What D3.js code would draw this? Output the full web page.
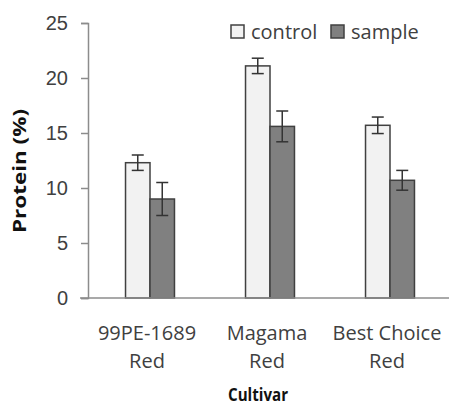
<!DOCTYPE html>
<html>
<head>
<meta charset="utf-8">
<script src="https://cdn.jsdelivr.net/npm/d3@7"></script>
<style>
  html, body { margin: 0; padding: 0; background: #fff; }
  svg { display: block; font-family: "Open Sans", "Noto Sans", sans-serif; }
</style>
</head>
<body>
<svg id="chart" width="449" height="407"></svg>
<script>
// Protein content per cultivar, control vs sample, with error bars
const categories = ["99PE-1689 Red", "Magama Red", "Best Choice Red"];
const seriesNames = ["control", "sample"];
const controlValues = [12.3, 21.1, 15.7];
const sampleValues = [9.0, 15.6, 10.7];
const controlErrors = [0.7, 0.7, 0.75];
const sampleErrors = [1.5, 1.4, 0.9];
const yTicks = [0, 5, 10, 15, 20, 25];

const fills = { control: "#f2f2f2", sample: "#808080" };
const textColor = "#404040";

const svg = d3.select("#chart");
const margin = { left: 88, top: 23, bottom: 298 };

const y = d3.scaleLinear().domain([0, 25]).range([margin.bottom, margin.top]);
const x0 = d3.scaleBand().domain(categories)
  .range([90, 450]).paddingInner(0.592).paddingOuter(0.296);
const x1 = d3.scaleBand().domain(seriesNames).range([0, x0.bandwidth()]);

const rows = categories.map((c, i) => ({
  category: c,
  bars: [
    { series: "control", value: controlValues[i], err: controlErrors[i] },
    { series: "sample", value: sampleValues[i], err: sampleErrors[i] }
  ]
}));

// y axis
const yAxis = svg.append("g")
  .attr("transform", `translate(${margin.left},0)`)
  .call(d3.axisLeft(y).tickValues(yTicks).tickSize(7).tickPadding(13));
yAxis.select(".domain").attr("stroke", "#8c8c8c").attr("stroke-width", 1.5);
yAxis.selectAll(".tick line").attr("stroke", "#8c8c8c").attr("stroke-width", 1.5);
yAxis.selectAll(".tick text")
  .attr("fill", textColor).style("font-size", "20px");

// bars
const groups = svg.append("g").selectAll("g")
  .data(rows).join("g")
  .attr("transform", d => `translate(${x0(d.category)},0)`);

groups.selectAll("rect")
  .data(d => d.bars).join("rect")
  .attr("x", d => x1(d.series))
  .attr("width", x1.bandwidth())
  .attr("y", d => y(d.value))
  .attr("height", d => y(0) - y(d.value))
  .attr("fill", d => fills[d.series])
  .attr("stroke", "#404040")
  .attr("stroke-width", 1.5);

// error bars
const cx = d => x1(d.series) + x1.bandwidth() / 2;
const eb = groups.selectAll("g.err")
  .data(d => d.bars).join("g").attr("class", "err")
  .attr("stroke", "#333").attr("stroke-width", 1.5);
eb.append("line")
  .attr("x1", cx).attr("x2", cx)
  .attr("y1", d => y(d.value + d.err))
  .attr("y2", d => y(d.value - d.err));
eb.append("line")
  .attr("x1", d => cx(d) - 6).attr("x2", d => cx(d) + 6)
  .attr("y1", d => y(d.value + d.err))
  .attr("y2", d => y(d.value + d.err));
eb.append("line")
  .attr("x1", d => cx(d) - 6).attr("x2", d => cx(d) + 6)
  .attr("y1", d => y(d.value - d.err))
  .attr("y2", d => y(d.value - d.err));

// x baseline
svg.append("line")
  .attr("x1", 80).attr("x2", 449)
  .attr("y1", y(0)).attr("y2", y(0))
  .attr("stroke", "#8c8c8c").attr("stroke-width", 1.5);

// category labels on two lines
const catLabels = svg.append("g").selectAll("text")
  .data(categories).join("text")
  .attr("y", 340)
  .attr("text-anchor", "middle")
  .attr("fill", textColor)
  .style("font-size", "20px");
catLabels.each(function(d) {
  const cut = d.lastIndexOf(" ");
  const lines = [d.slice(0, cut), d.slice(cut + 1)];
  const t = d3.select(this);
  lines.forEach((ln, i) => {
    t.append("tspan")
      .attr("x", x0(d) + x0.bandwidth() / 2 - 3)
      .attr("dy", i === 0 ? 0 : 28)
      .text(ln);
  });
});

// axis titles
svg.append("text")
  .attr("transform", `translate(26,171) rotate(-90)`)
  .attr("text-anchor", "middle")
  .attr("fill", "#111")
  .attr("textLength", 124)
  .attr("lengthAdjust", "spacingAndGlyphs")
  .style("font-size", "17px").style("font-weight", "bold")
  .text("Protein (%)");
svg.append("text")
  .attr("x", 258).attr("y", 401)
  .attr("text-anchor", "middle")
  .attr("fill", "#111")
  .attr("textLength", 60)
  .attr("lengthAdjust", "spacingAndGlyphs")
  .style("font-size", "18px").style("font-weight", "bold")
  .text("Cultivar");

// legend
const legendX = [231, 331];
const legend = svg.append("g").selectAll("g")
  .data(seriesNames).join("g")
  .attr("transform", (d, i) => `translate(${legendX[i]},25)`);
legend.append("rect")
  .attr("width", 13).attr("height", 13)
  .attr("fill", d => fills[d])
  .attr("stroke", "#404040").attr("stroke-width", 1.5);
legend.append("text")
  .attr("x", 20).attr("y", 14)
  .attr("fill", textColor)
  .style("font-size", "20px")
  .text(d => d);
</script>
</body>
</html>
